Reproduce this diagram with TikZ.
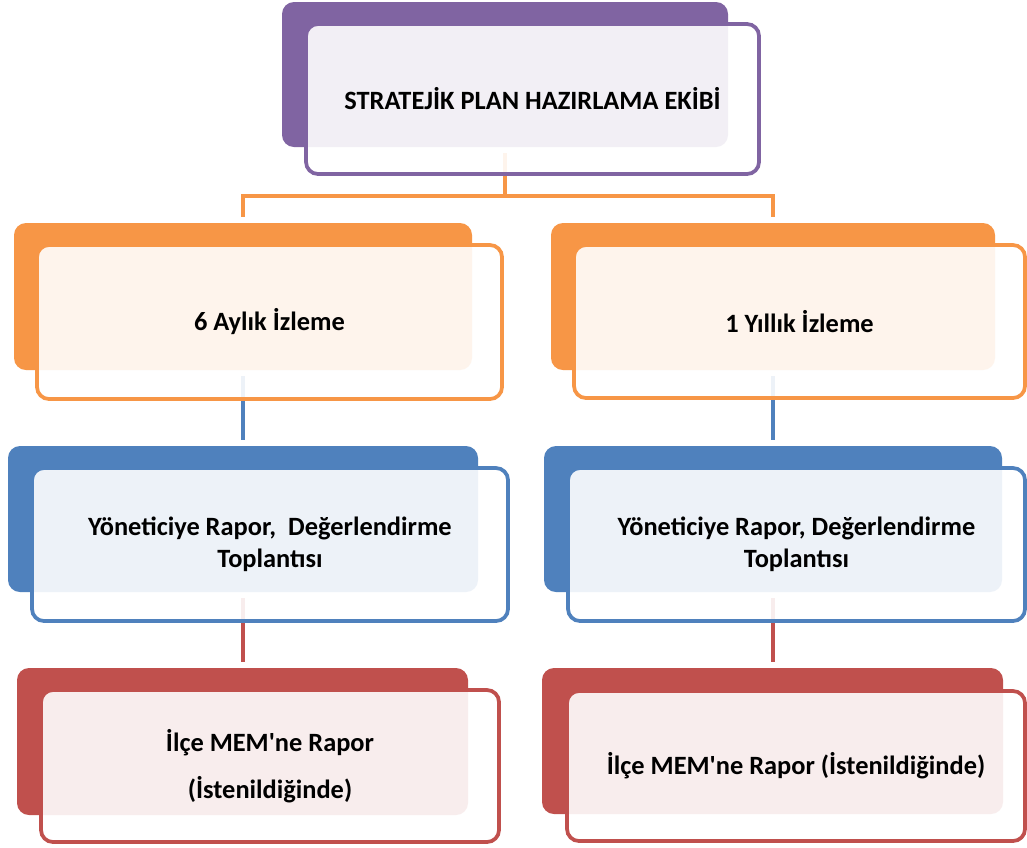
\documentclass[tikz,border=0pt]{standalone}
\usepackage{fontspec}
\setmainfont{Carlito}
\definecolor{plum}{HTML}{8064A2}
\definecolor{tang}{HTML}{F79646}
\definecolor{steel}{HTML}{4F81BD}
\definecolor{brick}{HTML}{C0504D}

\begin{document}
\begin{tikzpicture}[x=0.75pt,y=-0.75pt,
        font=\bfseries\fontsize{19.8}{24}\selectfont]
            \tikzstyle{bk}=[rectangle,rounded corners=9pt,inner sep=0pt]
            \tikzstyle{fr}=[rectangle,rounded corners=9pt,line width=2.8pt,fill=white,fill opacity=0.9,text opacity=1,text=black,align=center,inner sep=0pt]
            \tikzstyle{ln}=[line width=2.8pt,shorten <=4.5pt,shorten >=4.5pt]
            \tikzset{sz/.style 2 args={minimum width=#1*0.75pt,minimum height=#2*0.75pt}}

            \path[use as bounding box,fill=white] (0,0) rectangle (1027,847);

            % back boxes
            \node [bk,fill=plum,sz={446}{145}] (planb) at (505,74.5) {};
            \node [bk,fill=tang,sz={458}{147}] (aylikb) at (243,296.5) {};
            \node [bk,fill=tang,sz={444}{147}] (yillikb) at (773,296.5) {};
            \node [bk,fill=steel,sz={470}{146}] (yon6b) at (243,519) {};
            \node [bk,fill=steel,sz={458}{146}] (yon1b) at (773,519) {};
            \node [bk,fill=brick,sz={451}{147}] (mem6b) at (242.5,741.5) {};
            \node [bk,fill=brick,sz={461}{146}] (mem1b) at (772.5,741) {};

            % connectors
            \draw [ln,tang] (planb.south) -- ++(0,49) -| (aylikb.north);
            \draw [ln,tang] (planb.south) -- ++(0,49) -| (yillikb.north);
            \draw [ln,steel] (aylikb.south) -- (yon6b.north);
            \draw [ln,steel] (yillikb.south) -- (yon1b.north);
            \draw [ln,brick] (yon6b.south) -- (yon6b.south |- mem6b.north);
            \draw [ln,brick] (yon1b.south) -- (yon1b.south |- mem1b.north);

            % front boxes
            \node [fr,draw=plum,sz={453}{150}] (plan) at (532.5,99) {STRATEJİK PLAN HAZIRLAMA EKİBİ};
            \node [fr,draw=tang,sz={465}{154}] (aylik) at (269.5,322) {6 Aylık İzleme};
            \node [fr,draw=tang,sz={451}{153}] (yillik) at (799.5,321.5) {1 Yıllık İzleme};
            \node [fr,draw=steel,sz={476}{153}] (yon6) at (270,544.5) {Yöneticiye Rapor,\ \ Değerlendirme\\Toplantısı};
            \node [fr,draw=steel,sz={457}{153}] (yon1) at (796.5,544.5) {Yöneticiye Rapor, Değerlendirme\\Toplantısı};
            \node [fr,draw=brick,sz={458}{152}] (mem6) at (270,766) {İlçe MEM\textquotesingle ne Rapor\\[11pt](İstenildiğinde)};
            \node [fr,draw=brick,sz={458}{150}] (mem1) at (796,766) {İlçe MEM\textquotesingle ne Rapor (İstenildiğinde)};
        \end{tikzpicture}
\end{document}
